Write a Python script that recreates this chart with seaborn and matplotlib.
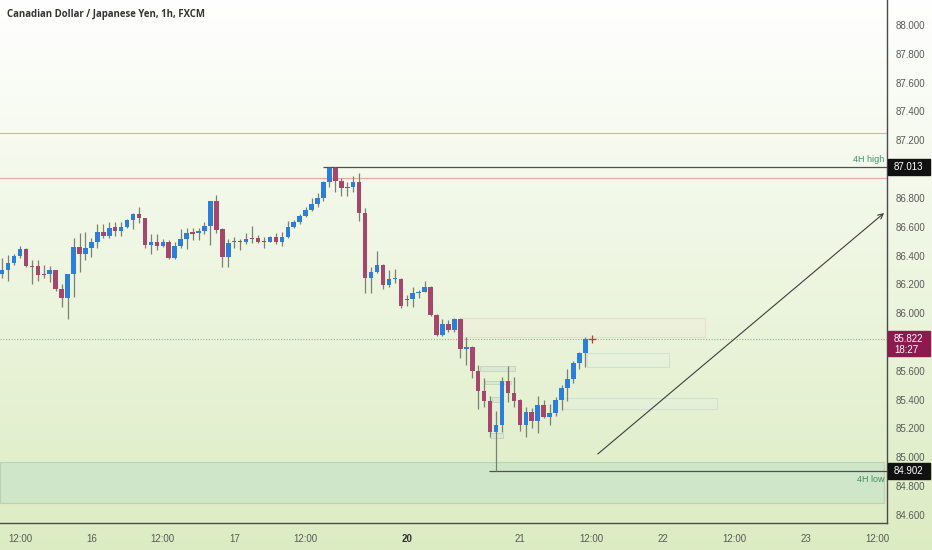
import numpy as np
import pandas as pd
import seaborn as sns
import matplotlib.pyplot as plt
import matplotlib.transforms as mtransforms
from matplotlib.patches import Rectangle
from matplotlib.colors import LinearSegmentedColormap

title = "Canadian Dollar / Japanese Yen, 1h, FXCM"

# hourly bars, index 0 = 15th 12:00 (weekend hours skipped)
bar_idx = np.arange(-3, 96)
opens = [86.272, 86.300, 86.348, 86.397, 86.446, 86.328, 86.328, 86.272, 86.272, 86.300,
         86.168, 86.106, 86.272, 86.459, 86.411, 86.453, 86.494, 86.564, 86.536, 86.598,
         86.570, 86.598, 86.647, 86.688, 86.661, 86.473, 86.494, 86.466, 86.494, 86.383,
         86.466, 86.515, 86.557, 86.557, 86.570, 86.605, 86.779, 86.584, 86.390, 86.494,
         86.501, 86.494, 86.515, 86.522, 86.501, 86.494, 86.529, 86.494, 86.529, 86.598,
         86.633, 86.675, 86.716, 86.758, 86.799, 86.910, 87.007, 86.917, 86.869, 86.876,
         86.910, 86.695, 86.244, 86.286, 86.335, 86.196, 86.237, 86.237, 86.092, 86.099,
         86.140, 86.147, 86.182, 85.988, 85.849, 85.925, 85.884, 85.960, 85.752, 85.766,
         85.599, 85.460, 85.391, 85.176, 85.224, 85.530, 85.446, 85.398, 85.224, 85.314,
         85.252, 85.363, 85.280, 85.308, 85.398, 85.481, 85.543, 85.654, 85.724]
highs = [86.383, 86.404, 86.411, 86.466, 86.453, 86.369, 86.369, 86.335, 86.328, 86.300,
         86.203, 86.272, 86.522, 86.557, 86.564, 86.522, 86.619, 86.619, 86.633, 86.633,
         86.633, 86.654, 86.695, 86.737, 86.661, 86.550, 86.550, 86.515, 86.508, 86.494,
         86.584, 86.591, 86.591, 86.591, 86.633, 86.779, 86.820, 86.591, 86.515, 86.529,
         86.515, 86.557, 86.605, 86.543, 86.529, 86.536, 86.557, 86.564, 86.640, 86.647,
         86.688, 86.737, 86.799, 86.834, 86.917, 87.013, 87.013, 86.938, 86.910, 86.952,
         86.973, 86.730, 86.321, 86.432, 86.341, 86.300, 86.307, 86.244, 86.126, 86.182,
         86.161, 86.224, 86.189, 85.995, 85.960, 85.953, 85.967, 85.967, 85.835, 85.772,
         85.641, 85.550, 85.425, 85.321, 85.557, 85.634, 85.557, 85.405, 85.349, 85.342,
         85.425, 85.398, 85.370, 85.419, 85.502, 85.613, 85.668, 85.731, 85.835]
lows = [86.244, 86.224, 86.335, 86.383, 86.321, 86.203, 86.224, 86.244, 86.217, 86.154,
        86.043, 85.960, 86.112, 86.286, 86.369, 86.390, 86.453, 86.522, 86.522, 86.536,
        86.536, 86.591, 86.584, 86.626, 86.453, 86.411, 86.439, 86.459, 86.376, 86.376,
        86.453, 86.446, 86.508, 86.508, 86.550, 86.473, 86.557, 86.321, 86.321, 86.453,
        86.439, 86.480, 86.487, 86.487, 86.453, 86.494, 86.480, 86.466, 86.522, 86.591,
        86.619, 86.668, 86.709, 86.737, 86.779, 86.876, 86.841, 86.813, 86.813, 86.841,
        86.640, 86.140, 86.140, 86.279, 86.168, 86.182, 86.210, 86.036, 86.050, 86.043,
        86.106, 86.147, 85.981, 85.842, 85.842, 85.870, 85.870, 85.689, 85.641, 85.550,
        85.335, 85.349, 85.141, 84.902, 85.176, 85.384, 85.349, 85.183, 85.141, 85.203,
        85.169, 85.273, 85.224, 85.287, 85.328, 85.391, 85.516, 85.613, 85.627]
closes = [86.300, 86.348, 86.397, 86.446, 86.328, 86.321, 86.265, 86.265, 86.300, 86.168,
          86.106, 86.272, 86.459, 86.411, 86.453, 86.494, 86.564, 86.536, 86.591, 86.570,
          86.598, 86.647, 86.688, 86.661, 86.473, 86.494, 86.466, 86.494, 86.383, 86.466,
          86.515, 86.557, 86.553, 86.570, 86.605, 86.779, 86.577, 86.390, 86.487, 86.501,
          86.494, 86.515, 86.512, 86.494, 86.494, 86.529, 86.494, 86.529, 86.598, 86.633,
          86.675, 86.716, 86.758, 86.799, 86.910, 87.007, 86.917, 86.869, 86.866, 86.910,
          86.695, 86.244, 86.286, 86.335, 86.196, 86.237, 86.240, 86.050, 86.089, 86.140,
          86.147, 86.182, 85.988, 85.849, 85.925, 85.884, 85.960, 85.752, 85.766, 85.599,
          85.460, 85.391, 85.176, 85.224, 85.530, 85.446, 85.391, 85.224, 85.314, 85.252,
          85.363, 85.280, 85.308, 85.398, 85.481, 85.543, 85.654, 85.724, 85.822]

time_ticks = [0, 12, 24, 36, 48, 65, 84, 96, 108, 120, 132, 144]
time_labels = ["12:00", "16", "12:00", "17", "12:00", "20", "21", "12:00", "22", "12:00", "23", "12:00"]
price_ticks = [88.0, 87.8, 87.6, 87.4, 87.2, 86.8, 86.6, 86.4, 86.2, 86.0,
               85.6, 85.4, 85.2, 85.0, 84.8, 84.6]

red_levels = [87.251, 86.938]
high_4h = 87.013
high_4h_from = 50.9
low_4h = 84.902
low_4h_from = 78.8
last_price = 85.822
countdown = "18:27"

# zones as (x_from, x_to, price_low, price_high)
supply_zone = (74.1, 115.1, 85.835, 85.967)
blue_zones = [(95.3, 109.1, 85.627, 85.724), (91.1, 117.1, 85.335, 85.412)]
small_zones = [(77.3, 83.2, 85.599, 85.634), (78.2, 82.5, 85.509, 85.530),
               (79.3, 81.0, 85.384, 85.419), (79.0, 81.2, 85.134, 85.169)]
demand_zone = (-3.4, 145.2, 84.683, 84.967)
arrow_from = (97.1, 85.023)
arrow_to = (145.2, 86.695)

df = pd.DataFrame({"idx": bar_idx, "open": opens, "high": highs, "low": lows, "close": closes})
df["up"] = df["close"] >= df["open"]

sns.set_theme(style="white")
plt.rcParams["font.family"] = ["Liberation Sans", "DejaVu Sans"]

fig = plt.figure(figsize=(9.32, 5.5), dpi=100)

# background gradient white -> pale green
bg = fig.add_axes([0, 0, 1, 1], zorder=0)
grad = np.linspace(0, 1, 256).reshape(-1, 1)
cmap = LinearSegmentedColormap.from_list("bg", ["#ffffff", "#dcecc2"])
bg.imshow(grad, aspect="auto", cmap=cmap, extent=[0, 1, 0, 1])
bg.axis("off")

ax = fig.add_axes([0, 27 / 550, 887 / 932, 523 / 550], zorder=1)
ax.patch.set_alpha(0)
ax.set_xlim(-3.36, 145.7)
ax.set_ylim(84.544, 88.1735)

# zones
x0, x1, y0, y1 = demand_zone
ax.add_patch(Rectangle((x0, y0), x1 - x0, y1 - y0, facecolor="#c9e4c8", alpha=0.7,
                       edgecolor="#aacbb0", lw=0.8, zorder=1))
x0, x1, y0, y1 = supply_zone
ax.add_patch(Rectangle((x0, y0), x1 - x0, y1 - y0, facecolor="#f6e9dc", alpha=0.25,
                       edgecolor="#e6ad9e", lw=0.8, zorder=1))
for x0, x1, y0, y1 in blue_zones:
    ax.add_patch(Rectangle((x0, y0), x1 - x0, y1 - y0, facecolor="#e6efe6", alpha=0.3,
                           edgecolor="#a9bccf", lw=0.8, zorder=1))
for x0, x1, y0, y1 in small_zones:
    ax.add_patch(Rectangle((x0, y0), x1 - x0, y1 - y0, facecolor="#d3e3d2", alpha=0.6,
                           edgecolor="#b4c6bc", lw=0.7, zorder=2))

# levels
for lvl in red_levels:
    ax.axhline(lvl, color="#eca79e", lw=0.8, zorder=2)
ax.axhline(last_price, color="#d78e88", lw=0.8, ls=(0, (1, 1.5)), zorder=2)
ax.hlines(high_4h, high_4h_from, 145.7, color="#4f5050", lw=0.9, zorder=2)
ax.hlines(low_4h, low_4h_from, 145.7, color="#4f5050", lw=0.9, zorder=2)
ax.annotate("4H high", xy=(145.2, high_4h), xytext=(0, 2.5), textcoords="offset points",
            ha="right", va="bottom", fontsize=6.5, color="#3f9166", zorder=5)
ax.annotate("4H low", xy=(145.2, low_4h), xytext=(0, -2.5), textcoords="offset points",
            ha="right", va="top", fontsize=6.5, color="#3f9166", zorder=5)

# candles
ax.vlines(df["idx"], df["low"], df["high"], color="#7c8073", lw=0.9, zorder=3)
body_low = np.minimum(df["open"], df["close"])
body_h = np.maximum((df["close"] - df["open"]).abs(), 0.008)
colors = np.where(df["up"], "#2b7fdb", "#a6466d")
ax.bar(df["idx"], body_h, bottom=body_low, width=0.76, color=colors, linewidth=0, zorder=4)

ax.plot(df["idx"].iloc[-1] + 1.1, last_price, marker="+", ms=6, mew=0.9, color="#c0392b", zorder=5)

ax.annotate("", xy=arrow_to, xytext=arrow_from,
            arrowprops=dict(arrowstyle="->", color="#3e3e3e", lw=0.8,
                            shrinkA=0, shrinkB=0, mutation_scale=9), zorder=5)

# axes
for s in ["top", "left"]:
    ax.spines[s].set_visible(False)
for s in ["right", "bottom"]:
    ax.spines[s].set_color("#4a4a4a")
    ax.spines[s].set_linewidth(1.0)
ax.yaxis.tick_right()
ax.set_yticks(price_ticks)
ax.set_yticklabels([f"{v:.3f}" for v in price_ticks])
ax.set_xticks(time_ticks)
ax.set_xticklabels(time_labels)
ax.tick_params(axis="y", length=0, pad=6, labelsize=7, labelcolor="#5a5a5a")
ax.tick_params(axis="x", length=0, pad=8, labelsize=7, labelcolor="#5a5a5a")
ax.get_xticklabels()[time_labels.index("20")].set_fontweight("bold")
ax.get_xticklabels()[time_labels.index("20")].set_color("#333333")
ax.grid(False)

# price tags on the right scale
trans = mtransforms.blended_transform_factory(ax.transAxes, ax.transData)
tag_w = 42 / 887
px = (88.1735 - 84.544) / 523
for val in [high_4h, low_4h]:
    ax.add_patch(Rectangle((1.001, val - 8 * px), tag_w, 16 * px, transform=trans,
                           color="#111111", clip_on=False, zorder=6))
    ax.text(1.008, val, f"{val:.3f}", transform=trans, ha="left", va="center",
            fontsize=7, color="white", clip_on=False, zorder=7)
ax.add_patch(Rectangle((1.001, last_price - 17 * px), tag_w, 25 * px, transform=trans,
                       color="#8c1a4e", clip_on=False, zorder=6))
ax.text(1.008, last_price, f"{last_price:.3f}", transform=trans, ha="left", va="center",
        fontsize=7, color="white", clip_on=False, zorder=7)
ax.text(1.008, last_price - 11 * px, countdown, transform=trans, ha="left", va="center",
        fontsize=7, color="white", clip_on=False, zorder=7)

fig.text(7 / 932, 1 - 15 / 550, title, ha="left", va="center", fontsize=6.9,
         fontweight="bold", color="#333333", family=["Open Sans", "DejaVu Sans"])

fig.savefig("out.png", dpi=100)
